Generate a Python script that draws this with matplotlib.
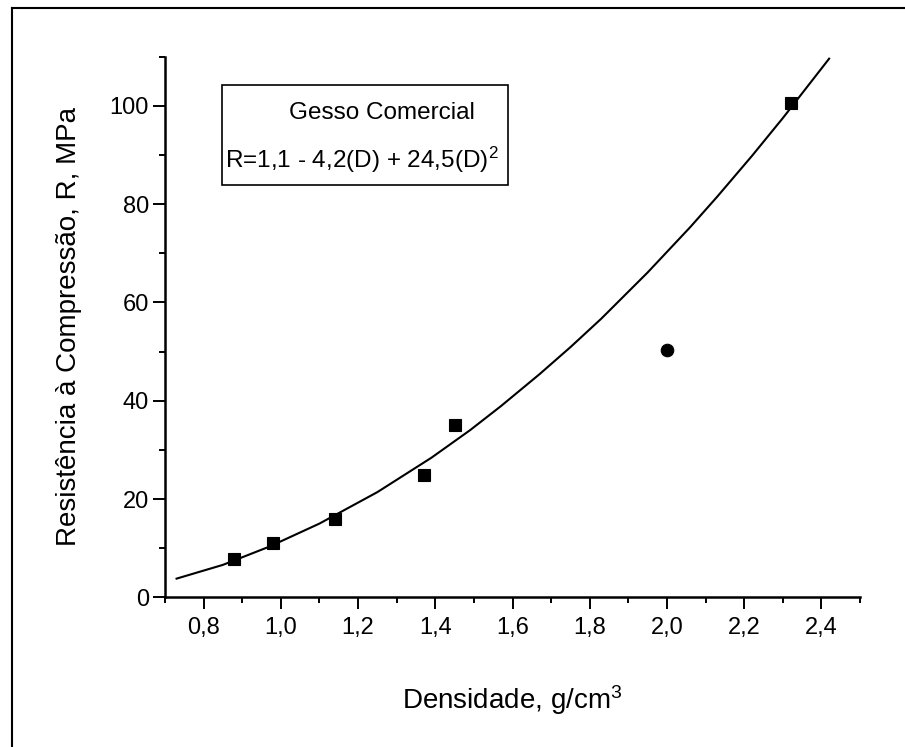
import numpy as np
import matplotlib
matplotlib.use("Agg")
import matplotlib.pyplot as plt
from matplotlib.lines import Line2D
from matplotlib.patches import Rectangle
from matplotlib.ticker import MultipleLocator, FuncFormatter

plt.rcParams['font.family'] = ['Liberation Sans', 'DejaVu Sans']
plt.rcParams['mathtext.fontset'] = 'custom'
plt.rcParams['mathtext.rm'] = 'Liberation Sans'
plt.rcParams['mathtext.it'] = 'Liberation Sans:italic'

# measured points (squares) and the odd one (circle)
dens = [0.88, 0.98, 1.14, 1.37, 1.45, 2.32]
resist = [7.8, 11.0, 15.9, 24.8, 35.0, 100.5]
dens_out = [2.0]
resist_out = [50.4]

# fitted curve
fit_d = [0.73, 0.85, 0.97, 1.10, 1.25, 1.39, 1.49, 1.57, 1.67, 1.75,
         1.83, 1.95, 2.06, 2.13, 2.22, 2.30, 2.42]
fit_r = [3.8, 6.6, 10.3, 15.0, 21.4, 28.4, 34.0, 38.9, 45.4, 50.9,
         56.7, 66.1, 75.3, 81.5, 89.8, 97.5, 109.6]

box_title = "Gesso Comercial"
box_eq = r"R=1,1 - 4,2(D) + 24,5(D)$^{2}$"

fig = plt.figure(figsize=(9.05, 7.47), dpi=100)
ax = fig.add_axes([0.1823, 0.2004, 0.768, 0.7237])

ax.plot(fit_d, fit_r, color='k', lw=1.5, zorder=2)
ax.plot(dens, resist, 's', color='k', ms=8.5, mew=0.8, zorder=3)
ax.plot(dens_out, resist_out, 'o', color='k', ms=9, mew=0.8, zorder=3)

ax.set_xlim(0.7, 2.5)
ax.set_ylim(0, 110)
ax.xaxis.set_major_locator(MultipleLocator(0.2))
ax.xaxis.set_minor_locator(MultipleLocator(0.1))
ax.yaxis.set_major_locator(MultipleLocator(20))
ax.yaxis.set_minor_locator(MultipleLocator(10))
ax.xaxis.set_major_formatter(FuncFormatter(lambda v, p: ("%.1f" % v).replace('.', ',')))

ax.spines['top'].set_visible(False)
ax.spines['right'].set_visible(False)
for s in ['left', 'bottom']:
    ax.spines[s].set_linewidth(1.8)
ax.tick_params(which='major', direction='out', length=8.5, width=1.4, labelsize=17)
ax.tick_params(which='minor', direction='out', length=4.5, width=1.4)
ax.tick_params(axis='x', which='major', pad=6)
ax.tick_params(axis='y', which='major', pad=3)

ax.set_xlabel(r"Densidade, g/cm$^{3}$", fontsize=20)
ax.set_ylabel(u"Resistência à Compressão, R, MPa", fontsize=20)
ax.xaxis.set_label_coords(0.5, -0.158)
ax.yaxis.set_label_coords(-0.119, 0.5)

# text box with the equation
ax.add_patch(Rectangle((0.082, 0.7627), 0.4115, 0.185, transform=ax.transAxes,
                       fill=False, ec='k', lw=1.2, clip_on=False))
ax.text(0.312, 0.896, box_title, transform=ax.transAxes, ha='center', va='center', fontsize=17.5)
ax.text(0.087, 0.81, box_eq, transform=ax.transAxes, ha='left', va='center', fontsize=17.5)

# scan frame
fig.add_artist(Line2D([0.0133, 1.0], [0.989, 0.989], transform=fig.transFigure, color='k', lw=1.5))
fig.add_artist(Line2D([0.0133, 0.0133], [0.0, 0.989], transform=fig.transFigure, color='k', lw=1.5))

fig.savefig("out.png", dpi=100, facecolor='white')
